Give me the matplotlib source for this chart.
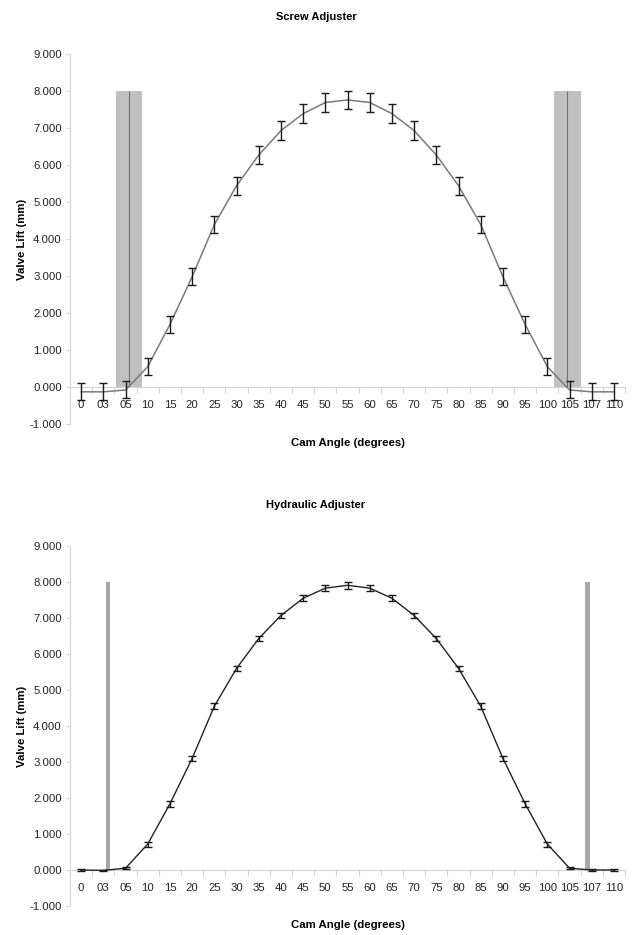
import numpy as np
import matplotlib.pyplot as plt
from matplotlib.ticker import FormatStrFormatter

plt.rcParams['font.family'] = ['Liberation Sans', 'DejaVu Sans']
plt.rcParams['font.size'] = 8

# cam angle categories (as printed on the axis)
angles = ['0', '03', '05', '10', '15', '20', '25', '30', '35', '40', '45', '50', '55',
          '60', '65', '70', '75', '80', '85', '90', '95', '100', '105', '107', '110']

# screw adjuster: mean lift (mm) and error
screw_lift = [-0.13, -0.13, -0.08, 0.55, 1.69, 2.98, 4.39, 5.44, 6.27, 6.93, 7.39, 7.69, 7.76,
              7.69, 7.39, 6.93, 6.27, 5.44, 4.39, 2.98, 1.69, 0.55, -0.08, -0.13, -0.13]
screw_err = [0.23, 0.23, 0.23, 0.23, 0.23, 0.23, 0.24, 0.24, 0.24, 0.25, 0.25, 0.25, 0.25,
             0.25, 0.25, 0.25, 0.24, 0.24, 0.24, 0.23, 0.23, 0.23, 0.23, 0.23, 0.23]
# valve open/close markers (category index position) with shaded spread
screw_mark_pos = [2.15, 21.9]
screw_mark_spread = 1.2

# hydraulic adjuster
hyd_lift = [0.00, -0.01, 0.05, 0.72, 1.84, 3.10, 4.55, 5.60, 6.43, 7.07, 7.55, 7.83, 7.91,
            7.83, 7.55, 7.07, 6.43, 5.60, 4.55, 3.10, 1.84, 0.72, 0.05, 0.00, 0.00]
hyd_err = [0.02, 0.02, 0.03, 0.07, 0.08, 0.08, 0.08, 0.08, 0.08, 0.08, 0.08, 0.08, 0.09,
           0.08, 0.08, 0.08, 0.08, 0.08, 0.08, 0.08, 0.08, 0.07, 0.03, 0.02, 0.02]
hyd_mark_pos = [1.2, 22.8]

mark_height = 8.0

x = np.arange(len(angles))
axis_grey = '#d4d4d4'
fs_tick = 8.2
fs_label = 8.2

fig = plt.figure(figsize=(6.32, 9.35), dpi=100)
ax1 = fig.add_axes([0.1108, 0.5465, 0.8782, 0.3957])
ax2 = fig.add_axes([0.1108, 0.031, 0.8782, 0.385])


def style_axis(ax):
    ax.set_xlim(-0.5, len(angles) - 0.5)
    ax.set_ylim(-1, 9)
    ax.spines['top'].set_visible(False)
    ax.spines['right'].set_visible(False)
    ax.spines['left'].set_color(axis_grey)
    ax.spines['bottom'].set_color(axis_grey)
    ax.spines['bottom'].set_position(('data', 0))
    ax.set_yticks(np.arange(-1, 10, 1))
    ax.yaxis.set_major_formatter(FormatStrFormatter('%.3f'))
    ax.tick_params(axis='y', length=3, width=0.8, color=axis_grey, pad=3,
                   labelsize=fs_tick, labelcolor='#222222')
    ax.set_xticks(x)
    ax.set_xticklabels(angles)
    ax.set_xticks(np.arange(-0.5, len(angles), 1), minor=True)
    ax.tick_params(axis='x', which='major', length=0, pad=9.5,
                   labelsize=fs_tick, labelcolor='#222222')
    ax.tick_params(axis='x', which='minor', length=4, width=0.8, color=axis_grey, direction='out')
    ax.set_xlabel('Cam Angle (degrees)', fontweight='bold', fontsize=fs_label)
    ax.set_ylabel('Valve Lift (mm)', fontweight='bold', fontsize=fs_label)
    ax.yaxis.set_label_coords(-0.078, 0.5)


# --- screw adjuster ---
style_axis(ax1)
ax1.bar(screw_mark_pos, [mark_height] * len(screw_mark_pos), width=screw_mark_spread,
        color='#c0c0c0', zorder=1)
ax1.vlines(screw_mark_pos, 0, mark_height, color='#707070', linewidth=0.8, zorder=2)
ax1.plot(x, screw_lift, color='#7a7a7a', linewidth=1.1, zorder=3)
ax1.errorbar(x, screw_lift, yerr=screw_err, fmt='none', ecolor='#1a1a1a',
             elinewidth=1.0, capsize=3, capthick=1.0, zorder=4)
ax1.xaxis.set_label_coords(0.5, -0.039)
fig.text(0.5, 1 - 17 / 935, 'Screw Adjuster', ha='center', va='center',
         fontweight='bold', fontsize=8)

# --- hydraulic adjuster ---
style_axis(ax2)
ax2.bar(hyd_mark_pos, [mark_height] * len(hyd_mark_pos), width=0.2,
        color='#a8a8a8', zorder=1)
ax2.plot(x, hyd_lift, color='#222222', linewidth=1.0, zorder=3)
ax2.errorbar(x, hyd_lift, yerr=hyd_err, fmt='none', ecolor='#1a1a1a',
             elinewidth=1.0, capsize=3, capthick=1.0, zorder=4)
ax2.xaxis.set_label_coords(0.5, -0.040)
fig.text(0.5, 1 - 505 / 935, 'Hydraulic Adjuster', ha='center', va='center',
         fontweight='bold', fontsize=8)

plt.savefig('out.png', dpi=100)
